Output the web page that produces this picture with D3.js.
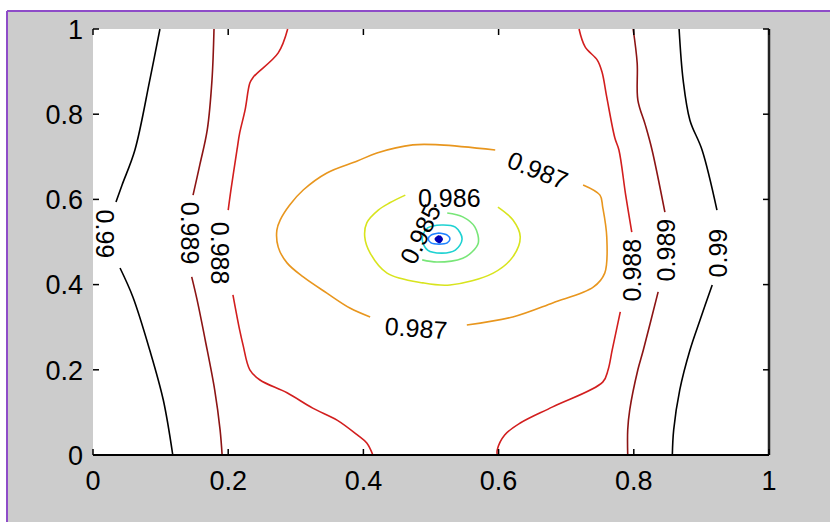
<!DOCTYPE html>
<html lang="en">
<head>
<meta charset="utf-8">
<script src="https://d3js.org/d3.v7.min.js"></script>
<style>
  body { margin: 0; background: #fff; }
  text { font-family: "Liberation Sans", Arial, sans-serif; fill: #000; }
</style>
</head>
<body>
<script>
  // tick values on both axes
  var xTicks = [0, 0.2, 0.4, 0.6, 0.8, 1];
  var yTicks = [0, 0.2, 0.4, 0.6, 0.8, 1];

  // contour levels and their colours (jet-like, as in the picture)
  var levels = [0.982, 0.983, 0.984, 0.985, 0.986, 0.987, 0.988, 0.989, 0.99];
  var levelColors = ["#0000b4", "#1e82ff", "#1ed2d2", "#78e678", "#d8e41e", "#e8961e", "#d21e1e", "#8c1414", "#000000"];

  // contour lines, [x, y] in data units
  var c990L1 = [[0.099, 1], [0.084, 0.880], [0.062, 0.716], [0.043, 0.634], [0.034, 0.594]];
  var c990L2 = [[0.040, 0.439], [0.059, 0.371], [0.084, 0.246], [0.104, 0.129], [0.118, 0]];
  var c989L1 = [[0.179, 1], [0.176, 0.880], [0.169, 0.763], [0.158, 0.681], [0.148, 0.610]];
  var c989L2 = [[0.146, 0.418], [0.154, 0.364], [0.166, 0.270], [0.180, 0.153], [0.188, 0.059], [0.191, 0]];
  var c988L1 = [[0.288, 1], [0.274, 0.944], [0.237, 0.887], [0.232, 0.873], [0.225, 0.810], [0.217, 0.756],
                [0.213, 0.716], [0.204, 0.622], [0.200, 0.575]];
  var c988L2 = [[0.207, 0.376], [0.217, 0.293], [0.222, 0.258], [0.232, 0.200], [0.247, 0.176], [0.287, 0.146],
                [0.325, 0.110], [0.361, 0.082], [0.391, 0.047], [0.405, 0.028], [0.414, 0]];
  var c988R1 = [[0.719, 1], [0.728, 0.958], [0.746, 0.927], [0.753, 0.899], [0.760, 0.840], [0.772, 0.744],
                [0.778, 0.716], [0.788, 0.610], [0.797, 0.523]];
  var c988R2 = [[0.780, 0.336], [0.768, 0.246], [0.762, 0.200], [0.754, 0.171], [0.680, 0.113], [0.632, 0.075],
                [0.609, 0.047], [0.598, 0.012], [0.598, 0]];
  var c989R1 = [[0.799, 1], [0.805, 0.920], [0.806, 0.833], [0.817, 0.775], [0.827, 0.716], [0.846, 0.570]];
  var c989R2 = [[0.836, 0.383], [0.814, 0.246], [0.806, 0.200], [0.794, 0.106], [0.791, 0.059], [0.791, 0]];
  var c990R1 = [[0.867, 1], [0.873, 0.880], [0.883, 0.786], [0.901, 0.716], [0.923, 0.575]];
  var c990R2 = [[0.916, 0.399], [0.898, 0.317], [0.883, 0.246], [0.868, 0.153], [0.859, 0.059], [0.857, 0]];
  var c987a = [[0.725, 0.634], [0.750, 0.610], [0.754, 0.582], [0.760, 0.512], [0.757, 0.427], [0.740, 0.394],
               [0.680, 0.357], [0.621, 0.324], [0.553, 0.305]];
  var c987b = [[0.410, 0.324], [0.380, 0.345], [0.346, 0.380], [0.311, 0.418], [0.287, 0.451], [0.274, 0.488],
               [0.272, 0.528], [0.277, 0.552], [0.291, 0.587], [0.311, 0.622], [0.346, 0.662], [0.391, 0.690],
               [0.420, 0.709], [0.473, 0.728], [0.513, 0.728], [0.595, 0.716]];
  var c986 = [[0.599, 0.582], [0.621, 0.552], [0.632, 0.512], [0.621, 0.465], [0.592, 0.427], [0.528, 0.399],
              [0.488, 0.404], [0.435, 0.427], [0.410, 0.474], [0.402, 0.512], [0.405, 0.545], [0.422, 0.575],
              [0.439, 0.592], [0.462, 0.610]];
  var c985 = [[0.524, 0.568], [0.547, 0.559], [0.565, 0.535], [0.570, 0.498], [0.561, 0.477], [0.547, 0.462],
              [0.509, 0.453], [0.487, 0.458]];
  var c984 = [[0.516, 0.540], [0.536, 0.535], [0.546, 0.507], [0.536, 0.481], [0.516, 0.474], [0.495, 0.481],
              [0.487, 0.507], [0.495, 0.533], [0.516, 0.540]];
  var c983 = [[0.512, 0.521], [0.524, 0.516], [0.528, 0.507], [0.524, 0.498], [0.512, 0.495], [0.500, 0.498],
              [0.496, 0.507], [0.500, 0.516], [0.512, 0.521]];
  var c982 = [[0.512, 0.514], [0.516, 0.507], [0.512, 0.500], [0.507, 0.507], [0.512, 0.514]];

  // contour labels: [x, y, rotation]
  var labelLevels = [0.99, 0.989, 0.988, 0.988, 0.989, 0.99, 0.987, 0.987, 0.986, 0.985];
  var labelPos = [[0.018, 0.519, 90], [0.143, 0.521, 90], [0.188, 0.474, 90], [0.797, 0.434, -90],
                  [0.848, 0.481, -90], [0.925, 0.474, -90], [0.478, 0.298, 4], [0.658, 0.669, 22],
                  [0.527, 0.603, 0], [0.484, 0.519, -65]];

  var lines = [
    [0.99, c990L1], [0.99, c990L2], [0.989, c989L1], [0.989, c989L2], [0.988, c988L1], [0.988, c988L2],
    [0.988, c988R1], [0.988, c988R2], [0.989, c989R1], [0.989, c989R2], [0.99, c990R1], [0.99, c990R2],
    [0.987, c987a], [0.987, c987b], [0.986, c986], [0.985, c985], [0.984, c984], [0.983, c983], [0.982, c982]
  ];

  var W = 830, H = 522;
  var svg = d3.select("body").append("svg").attr("width", W).attr("height", H);

  // figure background with the purple frame
  svg.append("rect").attr("x", 8).attr("y", 12).attr("width", W - 8).attr("height", H - 12).attr("fill", "#cccccc");
  svg.append("line").attr("x1", 7).attr("x2", W).attr("y1", 11).attr("y2", 11).attr("stroke", "#8e4cc8").attr("stroke-width", 2);
  svg.append("line").attr("x1", 7).attr("x2", 7).attr("y1", 11).attr("y2", H).attr("stroke", "#8e4cc8").attr("stroke-width", 2);

  var x = d3.scaleLinear().domain([0, 1]).range([93, 769]);
  var y = d3.scaleLinear().domain([0, 1]).range([455, 29]);

  svg.append("rect").attr("x", x(0)).attr("y", y(1)).attr("width", x(1) - x(0)).attr("height", y(0) - y(1)).attr("fill", "#fff");

  var color = d3.scaleOrdinal().domain(levels).range(levelColors);
  var line = d3.line().curve(d3.curveCatmullRom.alpha(0.5))
    .x(function(d) { return x(d[0]); }).y(function(d) { return y(d[1]); });

  svg.append("g").selectAll("path")
    .data(lines).enter()
    .append("path")
    .attr("d", function(d) { return line(d[1]); })
    .attr("fill", function(d) { return d[0] == 0.982 ? color(d[0]) : "none"; })
    .attr("stroke", function(d) { return color(d[0]); })
    .attr("stroke-width", function(d) { return d[0] == 0.982 ? 2.5 : 1.6; });

  svg.append("g").selectAll("text")
    .data(labelPos).enter()
    .append("text")
    .text(function(d, i) { return labelLevels[i]; })
    .attr("transform", function(d) { return "translate(" + x(d[0]) + "," + y(d[1]) + ") rotate(" + d[2] + ")"; })
    .attr("text-anchor", "middle")
    .attr("dy", "0.36em")
    .style("font-size", "25px");

  // axes: ticks inward on all four sides, lines only bottom and right
  var tl = 6;
  var ax = svg.append("g").attr("stroke", "#000").attr("stroke-width", 1.5);
  ax.append("line").attr("x1", x(0)).attr("x2", x(1)).attr("y1", y(0)).attr("y2", y(0)).attr("stroke-width", 2);
  ax.append("line").attr("x1", x(1)).attr("x2", x(1)).attr("y1", y(0)).attr("y2", y(1)).attr("stroke-width", 2.5).attr("stroke", "#222");
  xTicks.forEach(function(t) {
    ax.append("line").attr("x1", x(t)).attr("x2", x(t)).attr("y1", y(0)).attr("y2", y(0) - tl);
    ax.append("line").attr("x1", x(t)).attr("x2", x(t)).attr("y1", y(1)).attr("y2", y(1) + tl);
  });
  yTicks.forEach(function(t) {
    ax.append("line").attr("x1", x(0)).attr("x2", x(0) + tl).attr("y1", y(t)).attr("y2", y(t));
    ax.append("line").attr("x1", x(1)).attr("x2", x(1) - tl).attr("y1", y(t)).attr("y2", y(t));
  });

  svg.append("g").selectAll("text")
    .data(xTicks).enter()
    .append("text")
    .text(function(d) { return d; })
    .attr("x", function(d) { return x(d); })
    .attr("y", 490)
    .attr("text-anchor", "middle")
    .style("font-size", "27px");

  svg.append("g").selectAll("text")
    .data(yTicks).enter()
    .append("text")
    .text(function(d) { return d; })
    .attr("x", 83)
    .attr("y", function(d) { return y(d); })
    .attr("dy", "0.36em")
    .attr("text-anchor", "end")
    .style("font-size", "27px");
</script>
</body>
</html>
